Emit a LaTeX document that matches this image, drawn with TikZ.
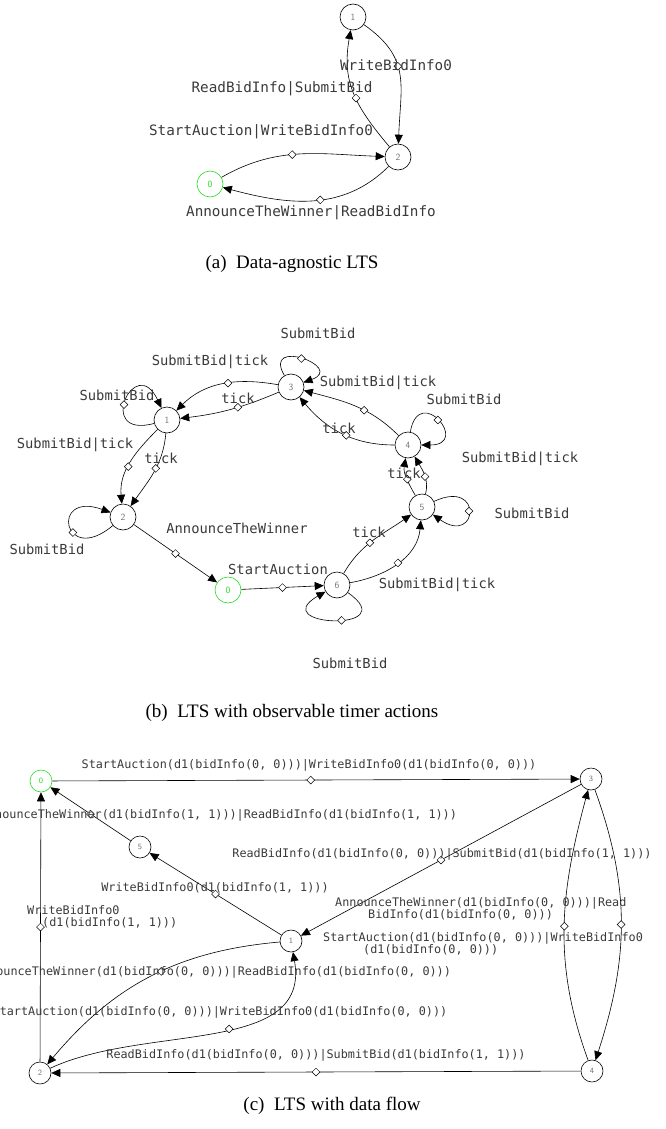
\documentclass[tikz,border=0pt]{standalone}
\usepackage{fontspec}
\setmainfont{Liberation Serif}
\setmonofont{DejaVu Sans Mono}
\usetikzlibrary{arrows.meta,shapes.geometric}
\definecolor{initC}{HTML}{22DD22}
\definecolor{lblC}{HTML}{3A3A3A}
\tikzset{
  state/.style={circle, draw, line width=0.6pt, minimum size=26pt, inner sep=0pt,
                text=black!55, font=\fontsize{9.5}{9.5}\selectfont\sffamily},
  sstate/.style={state, minimum size=22pt, font=\fontsize{8}{8}\selectfont\sffamily},
  init/.style={draw=initC, text=initC},
  trans/.style={-{Triangle[length=9pt,width=8pt]}, line width=0.6pt},
  dmd/.style={diamond, draw, fill=white, line width=0.5pt, inner sep=0pt, minimum size=8pt},
  lbla/.style={font=\fontsize{14.3}{16}\selectfont\ttfamily, text=lblC, inner sep=0pt},
  lblb/.style={lbla, font=\fontsize{13.8}{15}\selectfont\ttfamily},
  lblc/.style={lbla, font=\fontsize{11.8}{12.5}\selectfont\ttfamily},
  capt/.style={font=\fontsize{19}{21}\selectfont\rmfamily, inner sep=0pt},
}

\begin{document}
\begin{tikzpicture}[x=1pt,y=1pt]
\useasboundingbox (0,0) rectangle (666,-1129);

% (a) data-agnostic
\node[state] (a1) at (353,-17) {1};
\node[state] (a2) at (398,-157) {2};
\node[state,init] (a0) at (210,-184) {0};
\draw[trans] (a1) to[out=-35,in=88,looseness=1.2] node[dmd,pos=.42] (da12) {} (a2);
\draw[trans] (a2) to[out=130,in=-100,looseness=1.1] node[dmd,pos=.45] (da21) {} (a1);
\draw[trans] (a0) to[out=30,in=178] node[dmd,pos=.45] (da02) {} (a2);
\draw[trans] (a2) to[out=-135,in=-15] node[dmd,pos=.45] (da20) {} (a0);
\node[lbla] (la12) at (396,-65) {WriteBidInfo0};
\node[lbla] (la21) at (282,-89) {ReadBidInfo|SubmitBid};
\node[lbla] (la02) at (261,-132) {StartAuction|WriteBidInfo0};
\node[lbla] (la20) at (311,-213) {AnnounceTheWinner|ReadBidInfo};
\node[capt] (capa) at (292,-264) {(a)\enspace Data-agnostic LTS};

% (b) observable timer actions
\node[state] (b3) at (291,-387) {3};
\node[state] (b1) at (167,-420) {1};
\node[state] (b2) at (123,-517) {2};
\node[state,init] (b0) at (228,-590) {0};
\node[state] (b6) at (337,-585) {6};
\node[state] (b5) at (422,-507) {5};
\node[state] (b4) at (408,-445) {4};
\draw[trans] (b3) to[out=120,in=20,distance=45pt] node[dmd,pos=.5] (db33) {} (b3);
\draw[trans] (b3) to[out=170,in=45] node[dmd,pos=.45] (db31a) {} (b1);
\draw[trans] (b3) to[bend left=8] node[dmd,pos=.42] (db31b) {} (b1);
\draw[trans] (b1) to[out=195,in=115,distance=62pt] node[dmd,pos=.45] (db11) {} (b1);
\draw[trans] (b1) to[out=225,in=95] node[dmd,pos=.55] (db12a) {} (b2);
\draw[trans] (b1) to[out=-95,in=55] node[dmd,pos=.45] (db12b) {} (b2);
\draw[trans] (b2) to[out=220,in=160,distance=65pt] node[dmd,pos=.4] (db22) {} (b2);
\draw[trans] (b2) -- node[dmd] (db20) {} (b0);
\draw[trans] (b0) -- node[dmd] (db06) {} (b6);
\draw[trans] (b6) to[out=-35,in=-150,distance=70pt] node[dmd,pos=.45] (db66) {} (b6);
\draw[trans] (b6) to[out=60,in=215] node[dmd,pos=.45] (db65a) {} (b5);
\draw[trans] (b6) to[out=10,in=-95] node[dmd,pos=.5] (db65b) {} (b5);
\draw[trans] (b5) to[out=25,in=-35,distance=55pt] node[dmd,pos=.5] (db55) {} (b5);
\draw[trans] (b5) to[out=120,in=-100] node[dmd,pos=.45] (db54a) {} (b4);
\draw[trans] (b5) to[out=75,in=-60] node[dmd,pos=.45] (db54b) {} (b4);
\draw[trans] (b4) to[out=80,in=0,distance=50pt] node[dmd,pos=.5] (db44) {} (b4);
\draw[trans] (b4) to[out=135,in=-15] node[dmd,pos=.4] (db43a) {} (b3);
\draw[trans] (b4) to[out=180,in=-50] node[dmd,pos=.45] (db43b) {} (b3);
\node[lblb] (lb33) at (318,-333) {SubmitBid};
\node[lblb] (lb31a) at (210,-362) {SubmitBid|tick};
\node[lblb] (lb43a) at (378,-383) {SubmitBid|tick};
\node[lblb] (lb31b) at (238,-398) {tick};
\node[lblb] (lb11) at (117,-395) {SubmitBid};
\node[lblb] (lb44) at (464,-399) {SubmitBid};
\node[lblb] (lb43b) at (339,-428) {tick};
\node[lblb] (lb12a) at (75,-445) {SubmitBid|tick};
\node[lblb] (lb12b) at (161,-458) {tick};
\node[lblb] (lb54b) at (520,-459) {SubmitBid|tick};
\node[lblb] (lb54a) at (404,-473) {tick};
\node[lblb] (lb55) at (532,-513) {SubmitBid};
\node[lblb] (lb20) at (237,-528) {AnnounceTheWinner};
\node[lblb] (lb65a) at (369,-532) {tick};
\node[lblb] (lb22) at (47,-549) {SubmitBid};
\node[lblb] (lb06) at (278,-569) {StartAuction};
\node[lblb] (lb65b) at (437,-585) {SubmitBid|tick};
\node[lblb] (lb66) at (350,-663) {SubmitBid};
\node[capt] (capb) at (292,-713) {(b)\enspace LTS with observable timer actions};

% (c) data flow
\node[sstate,init] (c0) at (41,-781) {0};
\node[sstate] (c3) at (591,-779) {3};
\node[sstate] (c5) at (140,-847) {5};
\node[sstate] (c1) at (291,-941) {1};
\node[sstate] (c2) at (40,-1073) {2};
\node[sstate] (c4) at (592,-1071) {4};
\draw[trans] (c0) -- node[dmd,pos=.49] (dc03) {} (c3);
\draw[trans] (c3) -- node[dmd] (dc31) {} (c1);
\draw[trans] (c1) -- node[dmd] (dc15) {} (c5);
\draw[trans] (c5) -- node[dmd] (dc50) {} (c0);
\draw[trans] (c2) -- node[dmd] (dc20) {} (c0);
\draw[trans] (c4) -- node[dmd] (dc42) {} (c2);
\draw[trans] (c1) to[out=185,in=50] node[dmd,pos=.45] (dc12) {} (c2);
\draw[trans] (c2) to[out=25,in=-80] node[dmd,pos=.55] (dc21) {} (c1);
\draw[trans] (c4) to[out=110,in=-105] node[dmd,pos=.5] (dc43) {} (c3);
\draw[trans] (c3) to[out=-70,in=72] node[dmd,pos=.5] (dc34) {} (c4);
\node[lblc] (lc03) at (309,-765) {StartAuction(d1(bidInfo(0, 0)))|WriteBidInfo0(d1(bidInfo(0, 0)))};
\node[lblc] (lc50) at (219,-815) {AnnounceTheWinner(d1(bidInfo(1, 1)))|ReadBidInfo(d1(bidInfo(1, 1)))};
\node[lblc] (lc31) at (442,-854) {ReadBidInfo(d1(bidInfo(0, 0)))|SubmitBid(d1(bidInfo(1, 1)))};
\node[lblc] (lc15) at (215,-888) {WriteBidInfo0(d1(bidInfo(1, 1)))};
\node[lblc, anchor=west, align=left] (lc43) at (335,-909) {AnnounceTheWinner(d1(bidInfo(0, 0)))|Read\\\hspace*{33pt}BidInfo(d1(bidInfo(0, 0)))};
\node[lblc, anchor=west, align=left] (lc20) at (27,-917) {WriteBidInfo0\\\hspace*{15pt}(d1(bidInfo(1, 1)))};
\node[lblc, anchor=west, align=left] (lc34) at (323,-944) {StartAuction(d1(bidInfo(0, 0)))|WriteBidInfo0\\\hspace*{40pt}(d1(bidInfo(0, 0)))};
\node[lblc] (lc12) at (213,-972) {AnnounceTheWinner(d1(bidInfo(0, 0)))|ReadBidInfo(d1(bidInfo(0, 0)))};
\node[lblc] (lc21) at (220,-1012) {StartAuction(d1(bidInfo(0, 0)))|WriteBidInfo0(d1(bidInfo(0, 0)))};
\node[lblc] (lc42) at (316,-1055) {ReadBidInfo(d1(bidInfo(0, 0)))|SubmitBid(d1(bidInfo(1, 1)))};
\node[capt] (capc) at (332,-1106) {(c)\enspace LTS with data flow};
\end{tikzpicture}
\end{document}
